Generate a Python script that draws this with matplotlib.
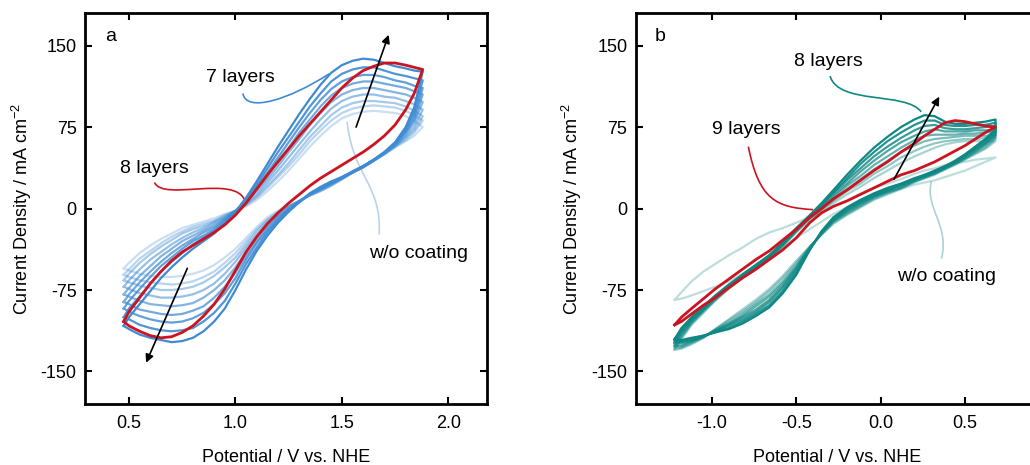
import numpy as np
import matplotlib
matplotlib.use("Agg")
import matplotlib.pyplot as plt
from matplotlib.path import Path
from matplotlib.patches import PathPatch

plt.rcParams['font.family'] = ['Liberation Sans', 'DejaVu Sans']
plt.rcParams['mathtext.fontset'] = 'custom'
plt.rcParams['mathtext.rm'] = 'Liberation Sans'
plt.rcParams['axes.unicode_minus'] = False

# ---- panel a: potential (V vs NHE) and current density (mA cm-2)
# each CV = upper branch + lower branch on the same potential grid
pot_a = [0.475, 0.50, 0.55, 0.60, 0.65, 0.70, 0.75, 0.80, 0.85, 0.90, 0.95, 1.00, 1.05, 1.10, 1.15,
         1.20, 1.25, 1.30, 1.35, 1.40, 1.45, 1.50, 1.55, 1.60, 1.65, 1.70, 1.75, 1.80, 1.84, 1.88]

# blue family: w/o coating (first, lightest) ... 7 layers (last, darkest)
blue_up = [
    [-55, -50, -41, -34, -28, -23, -18, -15, -12, -9, -5, -2, 2, 8, 16, 25, 35, 46, 57, 67, 76, 83, 87, 89, 90, 89, 88, 85, 81, 75],
    [-61, -56, -46, -39, -32, -26, -21, -17, -14, -11, -6, -2, 3, 10, 19, 29, 39, 50, 62, 72, 81, 88, 92, 94, 95, 94, 93, 90, 86, 81],
    [-66, -60, -50, -42, -35, -29, -23, -19, -16, -12, -7, -2, 4, 11, 21, 31, 42, 54, 66, 76, 86, 93, 97, 99, 99, 98, 97, 94, 90, 85],
    [-72, -66, -56, -47, -40, -33, -27, -22, -18, -13, -8, -2, 5, 13, 24, 35, 47, 59, 71, 82, 92, 99, 103, 105, 105, 103, 102, 99, 96, 91],
    [-79, -73, -62, -53, -44, -37, -30, -25, -20, -15, -9, -2, 6, 16, 27, 39, 52, 64, 77, 88, 98, 105, 109, 111, 111, 109, 107, 105, 102, 98],
    [-86, -79, -68, -58, -49, -41, -34, -28, -22, -17, -10, -3, 7, 18, 30, 44, 56, 70, 82, 94, 104, 111, 115, 117, 117, 115, 113, 111, 108, 105],
    [-92, -85, -74, -63, -53, -45, -37, -30, -25, -19, -11, -3, 8, 20, 33, 47, 61, 75, 88, 100, 110, 117, 121, 123, 123, 121, 118, 116, 113, 111],
    [-100, -92, -81, -69, -58, -49, -41, -33, -27, -21, -13, -3, 9, 22, 37, 52, 66, 80, 94, 106, 117, 124, 128, 130, 130, 127, 124, 122, 120, 118],
    [-108, -100, -88, -76, -64, -54, -45, -37, -30, -23, -14, -3, 10, 25, 41, 57, 72, 87, 101, 114, 125, 132, 136, 138, 137, 134, 131, 129, 127, 126],
]
blue_lo = [
    [-55, -57, -60, -62, -63, -63, -62, -60, -57, -52, -45, -37, -27, -17, -8, -2, 3, 7, 12, 16, 21, 27, 33, 38, 44, 50, 56, 62, 67, 75],
    [-61, -63, -66, -68, -69, -70, -69, -67, -63, -58, -50, -41, -30, -19, -10, -3, 2, 7, 12, 16, 21, 27, 33, 38, 44, 50, 57, 63, 70, 81],
    [-66, -68, -71, -73, -75, -75, -74, -72, -68, -62, -54, -45, -33, -21, -11, -4, 2, 7, 12, 17, 22, 27, 33, 38, 44, 50, 57, 65, 72, 85],
    [-72, -74, -78, -80, -82, -82, -81, -79, -75, -69, -60, -49, -36, -24, -13, -6, 1, 7, 13, 17, 22, 28, 33, 38, 44, 51, 58, 66, 75, 91],
    [-79, -81, -85, -88, -89, -90, -89, -87, -82, -75, -66, -54, -40, -27, -16, -7, 0, 7, 13, 18, 23, 28, 33, 38, 44, 51, 58, 68, 79, 98],
    [-86, -88, -93, -95, -97, -98, -97, -94, -90, -82, -72, -59, -44, -30, -18, -8, -1, 6, 13, 18, 23, 28, 34, 39, 45, 51, 59, 70, 82, 105],
    [-92, -95, -99, -102, -104, -105, -104, -101, -96, -88, -78, -64, -47, -32, -20, -10, -1, 6, 13, 19, 24, 28, 34, 39, 45, 51, 60, 71, 85, 111],
    [-100, -102, -107, -110, -112, -113, -112, -110, -104, -96, -85, -69, -51, -36, -22, -11, -2, 6, 14, 19, 24, 29, 34, 39, 45, 52, 60, 73, 89, 118],
    [-108, -111, -116, -119, -121, -123, -122, -119, -113, -104, -92, -75, -56, -39, -25, -13, -3, 6, 14, 20, 25, 29, 34, 39, 45, 52, 61, 75, 93, 126],
]
# 8 layers (red)
red_a_up = [-104, -95, -82, -69, -58, -48, -40, -34, -28, -22, -15, -6, 5, 18, 31,
            43, 55, 67, 78, 89, 100, 111, 120, 127, 131, 134, 134, 132, 130, 128]
red_a_lo = [-104, -108, -113, -117, -119, -118, -114, -108, -99, -88, -74, -57, -40, -26, -14,
            -4, 5, 13, 21, 28, 34, 40, 46, 52, 59, 67, 77, 91, 106, 128]

# ---- panel b
pot_b = [-1.22, -1.18, -1.12, -1.05, -0.98, -0.90, -0.82, -0.74, -0.66, -0.58, -0.50, -0.42, -0.35, -0.28,
         -0.20, -0.12, -0.04, 0.04, 0.12, 0.20, 0.26, 0.32, 0.38, 0.44, 0.50, 0.56, 0.62, 0.68]

# teal family: w/o coating (first, lightest) ... 8 layers (last, darkest)
teal_up = [
    [-84, -77, -67, -58, -51, -43, -36, -28, -22, -18, -13, -8, -4, 2, 7, 14, 19, 23, 27, 32, 35, 37, 40, 42, 43, 45, 46, 47],
    [-130, -120, -107, -96, -85, -74, -64, -55, -46, -35, -22, -10, -2, 5, 13, 20, 28, 35, 42, 48, 52, 56, 59, 61, 62, 62, 62, 62],
    [-129, -119, -106, -95, -84, -73, -64, -55, -46, -34, -21, -9, -1, 7, 16, 23, 32, 39, 47, 53, 57, 60, 62, 63, 64, 64, 65, 65],
    [-127, -117, -105, -94, -84, -73, -63, -54, -45, -34, -21, -9, 0, 8, 18, 27, 36, 44, 52, 58, 62, 64, 65, 66, 67, 67, 67, 68],
    [-126, -116, -104, -93, -83, -72, -63, -54, -45, -33, -20, -8, 1, 10, 21, 30, 40, 48, 56, 63, 67, 68, 68, 68, 69, 69, 70, 71],
    [-124, -114, -103, -93, -82, -72, -62, -53, -44, -33, -20, -8, 2, 12, 23, 34, 44, 53, 61, 67, 71, 73, 71, 71, 71, 72, 72, 73],
    [-123, -113, -102, -92, -81, -71, -62, -53, -44, -32, -19, -7, 3, 14, 26, 37, 48, 57, 65, 72, 76, 77, 74, 73, 73, 74, 75, 76],
    [-121, -111, -101, -91, -81, -71, -61, -52, -43, -32, -19, -7, 4, 15, 28, 41, 52, 62, 70, 77, 81, 81, 77, 76, 76, 77, 77, 79],
    [-120, -110, -100, -90, -80, -70, -61, -52, -43, -31, -18, -6, 5, 17, 31, 44, 56, 66, 75, 82, 86, 85, 80, 78, 78, 79, 80, 82],
]
teal_lo = [
    [-84, -83, -80, -76, -72, -67, -60, -53, -45, -36, -27, -19, -12, -5, 1, 8, 12, 15, 18, 22, 24, 26, 29, 32, 35, 39, 43, 47],
    [-130, -129, -125, -119, -111, -102, -93, -84, -74, -62, -48, -35, -24, -14, -6, 1, 8, 13, 18, 24, 28, 31, 36, 40, 45, 50, 55, 62],
    [-129, -128, -124, -119, -111, -103, -95, -86, -76, -64, -50, -35, -24, -13, -5, 2, 9, 14, 19, 25, 28, 32, 36, 41, 46, 51, 56, 64],
    [-127, -127, -123, -118, -112, -105, -97, -88, -79, -67, -52, -36, -23, -12, -4, 3, 10, 15, 19, 25, 29, 32, 37, 41, 46, 52, 58, 65],
    [-126, -126, -122, -118, -112, -106, -99, -90, -81, -69, -54, -36, -23, -11, -3, 4, 11, 16, 20, 26, 29, 33, 37, 42, 47, 53, 59, 67],
    [-124, -124, -122, -118, -113, -107, -100, -93, -84, -71, -55, -37, -22, -11, -2, 5, 11, 16, 21, 26, 30, 33, 38, 42, 48, 54, 60, 68],
    [-123, -123, -121, -118, -113, -108, -102, -95, -86, -73, -57, -37, -22, -10, -1, 6, 12, 17, 22, 27, 30, 34, 38, 43, 49, 55, 61, 70],
    [-121, -122, -120, -117, -114, -110, -104, -97, -89, -76, -59, -38, -21, -9, 0, 7, 13, 18, 22, 27, 31, 34, 39, 43, 49, 56, 63, 71],
    [-120, -121, -119, -117, -114, -111, -106, -99, -91, -78, -61, -38, -21, -8, 1, 8, 14, 19, 23, 28, 31, 35, 39, 44, 50, 57, 64, 73],
]
# 9 layers (red)
red_b_up = [-107, -100, -92, -83, -74, -65, -56, -47, -39, -29, -19, -8, 0, 9,
            17, 26, 35, 43, 52, 60, 67, 73, 79, 81, 80, 78, 76, 75]
red_b_lo = [-107, -104, -97, -89, -82, -73, -64, -56, -47, -38, -27, -13, -4, 2,
            7, 13, 19, 25, 31, 35, 39, 43, 48, 53, 58, 64, 70, 75]

BLUE = "#3f8bd3"
TEAL = "#0f8884"
RED = "#cc1420"


def cv(ax, pot, up, lo, color, lw, alpha=1.0):
    xs = list(pot) + list(pot[::-1]) + [pot[0]]
    ys = list(up) + list(lo[::-1]) + [up[0]]
    ax.plot(xs, ys, color=color, lw=lw, alpha=alpha, solid_joinstyle='round')


def leader(ax, pts, color):
    codes = [Path.MOVETO, Path.CURVE4, Path.CURVE4, Path.CURVE4]
    ax.add_patch(PathPatch(Path(pts, codes), fc='none', ec=color, lw=1.2))


def arrow(ax, tail, head):
    ax.annotate('', xy=head, xytext=tail,
                arrowprops=dict(arrowstyle='-|>', color='black', lw=1.2,
                                mutation_scale=12, shrinkA=0, shrinkB=0))


fig = plt.figure(figsize=(10.3, 4.65), dpi=100)
ax_a = fig.add_axes([0.0825, 0.131, 0.3903, 0.841])
ax_b = fig.add_axes([0.6172, 0.131, 0.3903, 0.841])

alphas = np.linspace(0.28, 1.0, 9)

for i in range(9):
    cv(ax_a, pot_a, blue_up[i], blue_lo[i], BLUE, 1.6, alphas[i])
cv(ax_a, pot_a, red_a_up, red_a_lo, RED, 2.0)

for i in range(9):
    cv(ax_b, pot_b, teal_up[i], teal_lo[i], TEAL, 1.6, alphas[i])
cv(ax_b, pot_b, red_b_up, red_b_lo, RED, 2.0)

# annotations panel a
arrow(ax_a, (1.567, 75), (1.72, 160))
arrow(ax_a, (0.774, -55), (0.58, -142))
ax_a.text(0.39, 158, "a", fontsize=14, va='center')
ax_a.text(1.025, 121, "7 layers", fontsize=14, ha='center', va='center')
leader(ax_a, [(1.035, 106), (1.05, 88), (1.25, 100), (1.44, 124)], BLUE)
ax_a.text(0.617, 37, "8 layers", fontsize=14, ha='center', va='center')
leader(ax_a, [(0.62, 24), (0.66, 6), (1.0, 32), (1.045, 7)], RED)
ax_a.text(1.86, -41, "w/o coating", fontsize=14, ha='center', va='center')
leader(ax_a, [(1.675, -24), (1.69, 22), (1.55, 30), (1.525, 80)], "#b9d3ec")

# annotations panel b
arrow(ax_b, (0.079, 27), (0.347, 103))
ax_b.text(-1.34, 158, "b", fontsize=14, va='center')
ax_b.text(-0.31, 135, "8 layers", fontsize=14, ha='center', va='center')
leader(ax_b, [(-0.30, 122), (-0.25, 95), (0.15, 108), (0.24, 89)], TEAL)
ax_b.text(-0.794, 73, "9 layers", fontsize=14, ha='center', va='center')
leader(ax_b, [(-0.784, 57), (-0.72, 8), (-0.62, 1), (-0.40, -1)], RED)
ax_b.text(0.391, -63, "w/o coating", fontsize=14, ha='center', va='center')
leader(ax_b, [(0.36, -46), (0.41, -15), (0.26, 0), (0.30, 25)], "#a9d4d2")

for ax in (ax_a, ax_b):
    ax.set_ylim(-180, 180)
    ax.set_yticks([-150, -75, 0, 75, 150])
    ax.tick_params(direction='in', top=True, right=True, length=5, width=1.5,
                   labelsize=13)
    ax.tick_params(axis='x', pad=8)
    ax.tick_params(axis='y', pad=6)
    for s in ax.spines.values():
        s.set_linewidth(2)
    ax.set_xlabel("Potential / V vs. NHE", fontsize=13, labelpad=12)
    ax.set_ylabel(r"Current Density / mA cm$^{-2}$", fontsize=13, labelpad=5)

ax_a.set_xlim(0.293, 2.182)
ax_a.set_xticks([0.5, 1.0, 1.5, 2.0])
ax_a.set_xticklabels(["0.5", "1.0", "1.5", "2.0"])
ax_b.set_xlim(-1.451, 0.93)
ax_b.set_xticks([-1.0, -0.5, 0.0, 0.5])
ax_b.set_xticklabels(["-1.0", "-0.5", "0.0", "0.5"])

fig.savefig("out.png", dpi=100)
